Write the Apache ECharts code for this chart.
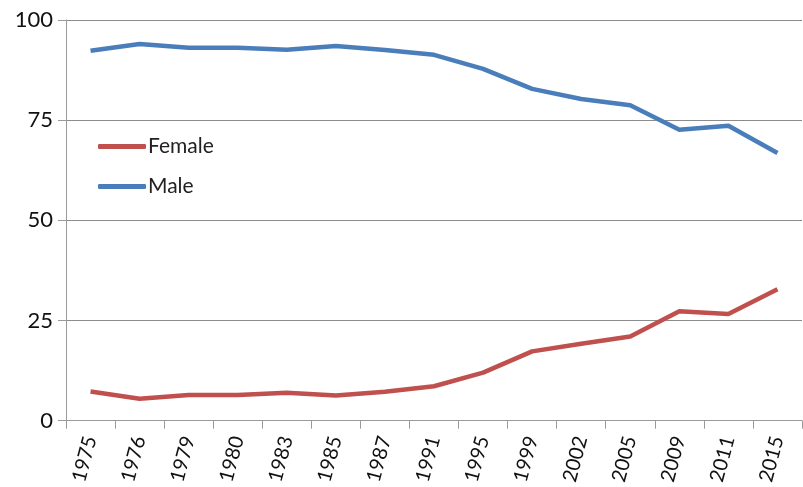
<!DOCTYPE html>
<html>
<head>
<meta charset="utf-8">
<script src="https://cdn.jsdelivr.net/npm/echarts@6/dist/echarts.min.js"></script>
<style>
  html, body { margin: 0; padding: 0; background: #fff; }
  #chart { width: 803px; height: 487px; }
</style>
</head>
<body>
<div id="chart"></div>
<script>
  // data
  const years = ['1975', '1976', '1979', '1980', '1983', '1985', '1987', '1991',
    '1995', '1999', '2002', '2005', '2009', '2011', '2015']
  const female = [7.3, 5.5, 6.4, 6.4, 7.0, 6.3, 7.2, 8.6, 12.0, 17.3, 19.2, 21.0, 27.3, 26.6, 32.8]
  const male = [92.3, 94.0, 93.1, 93.1, 92.6, 93.5, 92.5, 91.3, 87.8, 82.8, 80.3, 78.7, 72.6, 73.6, 66.8]

  const font = 'Lato, "Open Sans", sans-serif'
  let chart = echarts.init(document.getElementById('chart'))
  chart.setOption({
    animation: false,
    textStyle: { fontFamily: font },
    grid: { left: 66, right: 1, top: 20, bottom: 66 },
    legend: {
      orient: 'vertical',
      left: 93,
      top: 131,
      itemWidth: 48,
      itemHeight: 5,
      itemGap: 19,
      icon: 'roundRect',
      textStyle: { fontSize: 21, color: '#222', padding: [0, 0, 0, -3], fontFamily: font },
      data: ['Female', 'Male']
    },
    xAxis: {
      type: 'category',
      data: years,
      boundaryGap: true,
      axisLine: { lineStyle: { color: '#9a9a9a', width: 1 } },
      axisTick: { show: true, length: 8, lineStyle: { color: '#9a9a9a' } },
      axisLabel: { rotate: 75, fontSize: 20, color: '#111', margin: 16, interval: 0, fontFamily: font }
    },
    yAxis: {
      type: 'value',
      min: 0,
      max: 100,
      interval: 25,
      axisLine: { show: true, lineStyle: { color: '#9a9a9a' } },
      axisTick: { show: true, length: 8, lineStyle: { color: '#9a9a9a' } },
      axisLabel: { fontSize: 22, color: '#111', margin: 13, fontFamily: font },
      splitLine: { lineStyle: { color: '#8c8c8c', width: 1 } }
    },
    series: [
      {
        name: 'Female',
        type: 'line',
        data: female,
        symbol: 'none',
        color: '#C0504D',
        lineStyle: { width: 4.5, color: '#C0504D' }
      },
      {
        name: 'Male',
        type: 'line',
        data: male,
        symbol: 'none',
        color: '#4A7EBB',
        lineStyle: { width: 4.5, color: '#4A7EBB' }
      }
    ]
  })
</script>
</body>
</html>
